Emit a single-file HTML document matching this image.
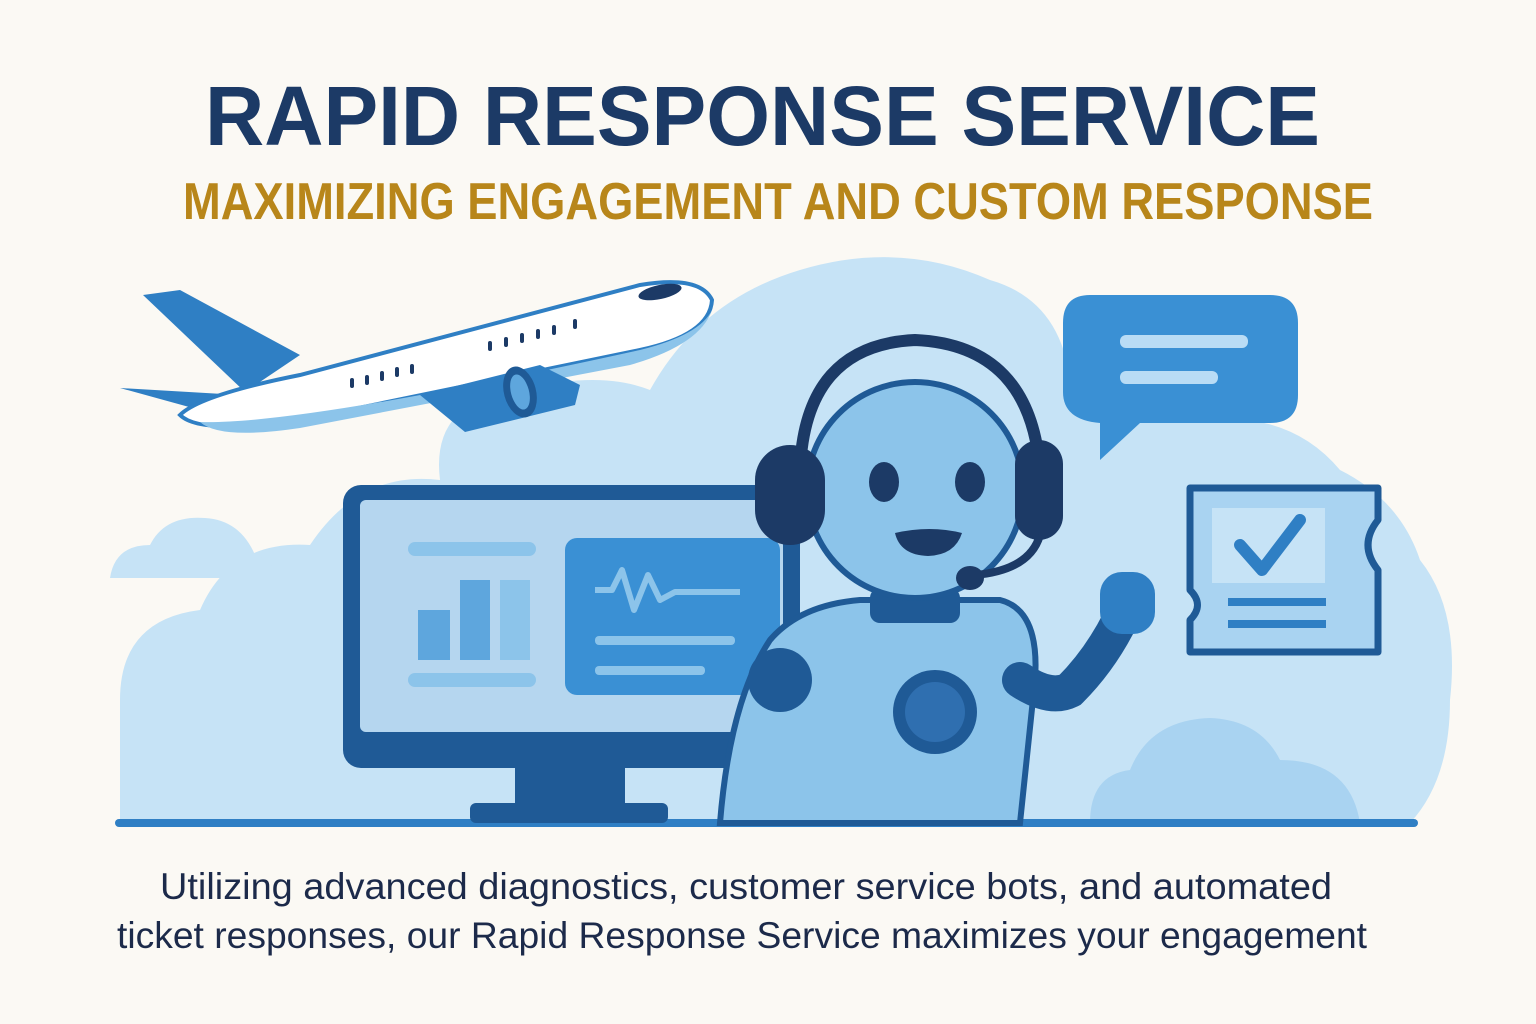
<!DOCTYPE html>
<html><head><meta charset="utf-8"><style>
html,body{margin:0;padding:0;background:#fbf9f4;}
svg{display:block}
</style></head><body>
<svg width="1536" height="1024" viewBox="0 0 1536 1024" xmlns="http://www.w3.org/2000/svg">
<rect width="1536" height="1024" fill="#fbf9f4"/>
<text x="205" y="145" textLength="1115" lengthAdjust="spacingAndGlyphs" font-family="Liberation Sans, sans-serif" font-weight="bold" font-size="84" fill="#1c3a66">RAPID RESPONSE SERVICE</text>
<text x="183" y="219" textLength="1190" lengthAdjust="spacingAndGlyphs" font-family="Liberation Sans, sans-serif" font-weight="bold" font-size="52" fill="#b8861a">MAXIMIZING ENGAGEMENT AND CUSTOM RESPONSE</text>

<!-- clouds -->
<g fill="#c6e3f6">
<path d="M120 823 L120 700 Q120 620 200 610 Q230 540 310 545 Q360 470 440 480 Q430 400 520 390 Q600 370 650 390 Q700 300 800 270 Q900 240 990 280 Q1060 300 1070 380 Q1150 370 1200 420 Q1290 410 1340 470 Q1400 500 1420 560 Q1460 610 1450 700 Q1450 780 1410 823 Z"/>
<path d="M110 578 Q115 545 150 545 Q165 515 205 518 Q240 520 255 555 Q275 560 275 578 Z"/>
</g>
<path d="M1090 823 Q1090 775 1130 770 Q1150 720 1210 718 Q1260 720 1280 760 Q1350 760 1360 823 Z" fill="#a9d3f1"/>
<rect x="115" y="819" width="1303" height="8" rx="4" fill="#2f7fc4"/>

<!-- monitor -->
<rect x="515" y="760" width="110" height="50" fill="#1f5a96"/>
<rect x="470" y="803" width="198" height="20" rx="6" fill="#1f5a96"/>
<rect x="343" y="485" width="457" height="283" rx="18" fill="#1f5a96"/>
<rect x="360" y="500" width="423" height="232" rx="6" fill="#cde6f7"/>
<rect x="360" y="500" width="423" height="232" rx="6" fill="#2f7fc4" opacity="0.15"/>
<rect x="360" y="700" width="423" height="32" fill="#2f7fc4" opacity="0.0"/>
<rect x="408" y="542" width="128" height="14" rx="7" fill="#8cc4ea"/>
<rect x="418" y="610" width="32" height="50" fill="#5ea6dd"/>
<rect x="460" y="580" width="30" height="80" fill="#5ea6dd"/>
<rect x="500" y="580" width="30" height="80" fill="#8cc4ea"/>
<rect x="408" y="673" width="128" height="14" rx="7" fill="#8cc4ea"/>
<rect x="565" y="538" width="215" height="157" rx="12" fill="#3a90d4"/>
<polyline points="595,590 612,590 622,570 634,610 648,575 660,600 675,592 740,592" fill="none" stroke="#8cc4ea" stroke-width="6" stroke-linejoin="round"/>
<rect x="595" y="636" width="140" height="9" rx="4" fill="#8cc4ea"/>
<rect x="595" y="666" width="110" height="9" rx="4" fill="#8cc4ea"/>

<!-- robot -->
<path d="M720 823 Q730 700 770 640 Q800 605 860 600 L1000 600 Q1040 610 1035 680 L1020 823 Z" fill="#8cc4ea" stroke="#1f5a96" stroke-width="6"/>
<rect x="870" y="588" width="90" height="35" rx="10" fill="#1f5a96"/>
<circle cx="780" cy="680" r="32" fill="#1f5a96"/>
<path d="M1020 680 Q1050 700 1070 690 Q1100 660 1120 620" fill="none" stroke="#1f5a96" stroke-width="36" stroke-linecap="round"/>
<rect x="1100" y="572" width="55" height="62" rx="22" fill="#2f7fc4"/>
<circle cx="935" cy="712" r="42" fill="#1f5a96"/>
<circle cx="935" cy="712" r="30" fill="#2f6fb0"/>
<circle cx="915" cy="490" r="108" fill="#8cc4ea" stroke="#1f5a96" stroke-width="6"/>
<path d="M800 470 Q805 345 915 340 Q1030 345 1040 470" fill="none" stroke="#1c3a66" stroke-width="12"/>
<rect x="755" y="445" width="70" height="100" rx="35" fill="#1c3a66"/>
<rect x="1015" y="440" width="48" height="100" rx="24" fill="#1c3a66"/>
<path d="M1040 535 Q1030 570 975 575" fill="none" stroke="#1c3a66" stroke-width="8"/>
<ellipse cx="970" cy="578" rx="14" ry="12" fill="#1c3a66"/>
<ellipse cx="884" cy="482" rx="15" ry="20" fill="#1c3a66"/>
<ellipse cx="970" cy="482" rx="15" ry="20" fill="#1c3a66"/>
<path d="M895 533 Q930 525 962 533 Q955 555 928 556 Q900 555 895 533 Z" fill="#1c3a66"/>

<!-- speech bubble -->
<path d="M1090 295 L1270 295 Q1298 295 1298 323 L1298 395 Q1298 423 1270 423 L1140 423 L1100 460 L1100 423 Q1063 420 1063 392 L1063 323 Q1063 295 1090 295 Z" fill="#3a90d4"/>
<rect x="1120" y="335" width="128" height="13" rx="6" fill="#b9dcf5"/>
<rect x="1120" y="371" width="98" height="13" rx="6" fill="#b9dcf5"/>

<!-- ticket -->
<path d="M1190 488 L1378 488 L1378 520 Q1358 545 1378 570 L1378 652 L1190 652 L1190 620 Q1205 605 1190 590 Z" fill="#a9d3f1" stroke="#1f5a96" stroke-width="7" stroke-linejoin="round"/>
<rect x="1212" y="508" width="113" height="75" fill="#c6e3f6"/>
<polyline points="1240,545 1262,570 1300,520" fill="none" stroke="#2f7fc4" stroke-width="12" stroke-linecap="round" stroke-linejoin="round"/>
<rect x="1228" y="598" width="98" height="8" fill="#2f7fc4"/>
<rect x="1228" y="620" width="98" height="8" fill="#2f7fc4"/>

<!-- plane -->
<path d="M143 295 L180 290 L300 355 L245 392 Z" fill="#2f7fc4"/>
<path d="M120 388 L240 395 L270 405 L200 410 Z" fill="#2f7fc4"/>
<path d="M180 415 Q200 395 300 375 L640 285 Q700 275 712 300 Q710 335 640 350 L300 420 Q200 435 180 415 Z" fill="#ffffff" stroke="#2f7fc4" stroke-width="4"/>
<path d="M200 422 Q300 425 640 350 Q700 335 712 310 Q700 345 630 365 L300 428 Q220 440 200 422 Z" fill="#8cc4ea"/>
<ellipse cx="660" cy="292" rx="22" ry="7" fill="#1c3a66" transform="rotate(-12 660 292)"/>
<path d="M420 395 L540 365 L580 385 L575 405 L465 432 Z" fill="#2f7fc4"/>
<ellipse cx="520" cy="392" rx="16" ry="26" fill="#1f5a96" transform="rotate(-15 520 392)"/>
<ellipse cx="520" cy="392" rx="9" ry="18" fill="#5ea6dd" transform="rotate(-15 520 392)"/>
<g stroke="#1c3a66" stroke-width="4" stroke-linecap="round">
<line x1="352" y1="380" x2="352" y2="386"/><line x1="367" y1="377" x2="367" y2="383"/><line x1="382" y1="373" x2="382" y2="379"/><line x1="397" y1="369" x2="397" y2="375"/><line x1="412" y1="366" x2="412" y2="372"/>
<line x1="490" y1="343" x2="490" y2="349"/><line x1="506" y1="339" x2="506" y2="345"/><line x1="522" y1="335" x2="522" y2="341"/><line x1="538" y1="331" x2="538" y2="337"/><line x1="554" y1="327" x2="554" y2="333"/><line x1="575" y1="321" x2="575" y2="327"/>
</g>

<text x="160" y="899" textLength="1172" lengthAdjust="spacingAndGlyphs" font-family="Liberation Sans, sans-serif" font-size="37" fill="#1c2a4a">Utilizing advanced diagnostics, customer service bots, and automated</text>
<text x="117" y="948" textLength="1250" lengthAdjust="spacingAndGlyphs" font-family="Liberation Sans, sans-serif" font-size="37" fill="#1c2a4a">ticket responses, our Rapid Response Service maximizes your engagement</text>
</svg>
</body></html>
